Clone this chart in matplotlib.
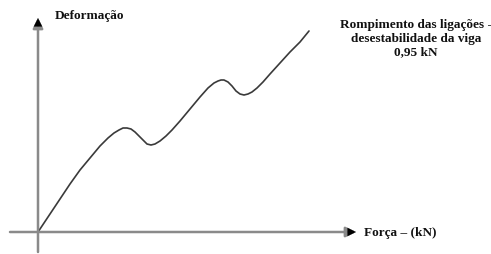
import matplotlib
matplotlib.use("Agg")
import matplotlib.pyplot as plt

# Curve (x: force, y: deformation, arbitrary pixel-like units)
force = [0, 12, 22, 32, 42, 52, 62, 70, 76, 81, 85, 89, 93, 97, 101, 105, 109, 113,
         117, 122, 128, 134, 142, 152, 162, 170, 176, 180, 183, 186, 190, 194, 198,
         202, 206, 210, 214, 219, 225, 232, 242, 252, 262, 271]
deform = [0, 18, 33, 48, 62, 74, 86, 94, 99, 102, 104, 104, 103, 100, 96, 92, 88, 87,
          88, 91, 96, 102, 111, 123, 135, 144, 149, 151, 152, 152, 150, 146, 141,
          138, 137, 138, 140, 144, 150, 158, 169, 180, 190, 201]

xlabel = "Força – (kN)"
ylabel = "Deformação"
note = "Rompimento das ligações -\ndesestabilidade da viga\n0,95 kN"

fig = plt.figure(figsize=(4.91, 2.55), dpi=100)
ax = fig.add_axes([0, 0, 1, 1])
ax.set_xlim(-38, 453)
ax.set_ylim(-22, 233)
ax.axis("off")

axis_col = "#8a8a8a"
# y axis
ax.annotate("", xy=(0, 214), xytext=(0, -20),
            arrowprops=dict(arrowstyle="-|>,head_length=0.6,head_width=0.3",
                            color=axis_col, lw=1.8, shrinkA=0, shrinkB=0))
# x axis
ax.annotate("", xy=(318, 0), xytext=(-28, 0),
            arrowprops=dict(arrowstyle="-|>,head_length=0.6,head_width=0.3",
                            color=axis_col, lw=1.8, shrinkA=0, shrinkB=0))
# arrow heads in black drawn over
ax.annotate("", xy=(318, 0), xytext=(309, 0),
            arrowprops=dict(arrowstyle="-|>,head_length=0.6,head_width=0.3",
                            color="black", lw=0.1, shrinkA=0, shrinkB=0))
ax.annotate("", xy=(0, 214), xytext=(0, 205),
            arrowprops=dict(arrowstyle="-|>,head_length=0.6,head_width=0.3",
                            color="black", lw=0.1, shrinkA=0, shrinkB=0))

ax.plot(force, deform, color="#3a3a3a", lw=1.2, solid_capstyle="round",
        solid_joinstyle="round", antialiased=True)

font = dict(family="Liberation Serif", weight="bold", color="#111111")
ax.text(17, 217, ylabel, fontsize=9.5, ha="left", va="center", **font)
ax.text(326, 0, xlabel, fontsize=9.5, ha="left", va="center", **font)
ax.text(378, 214, note, fontsize=9.5, ha="center", va="top", linespacing=1.2, **font)

fig.savefig("out.png", dpi=100)
